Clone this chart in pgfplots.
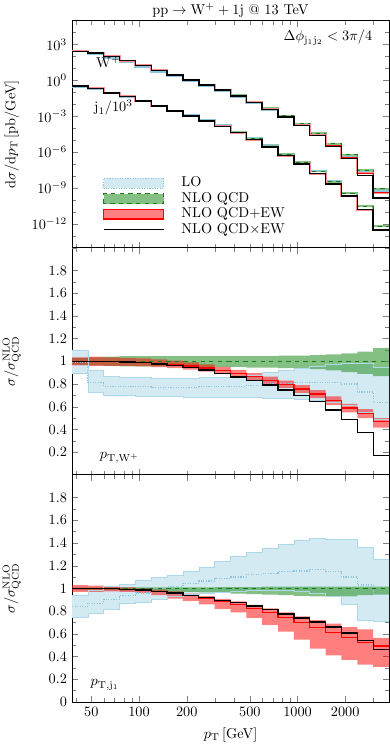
\documentclass[border=0pt]{standalone}
\usepackage{pgfplots}
\pgfplotsset{compat=1.18}
\usepackage{pgfplotstable}
\usepgfplotslibrary{fillbetween}

\definecolor{lofill}{RGB}{212,234,242}
\definecolor{loline}{RGB}{140,198,222}
\definecolor{qfill}{RGB}{50,150,50}
\definecolor{qline}{RGB}{25,125,25}

\pgfplotstableread{
x       wlo       wq        wr        wb        jlo       jq        jr        jb
37.77   260.4     263.0     263.0     263.0     0.2846    0.3388    0.3388    0.3388
47.55   161.6     199.5     199.5     199.5     0.1904    0.2188    0.2188    0.2188
59.86   78.16     100.2     100.0     100.0     0.08093   0.08933   0.08915   0.08915
75.36   34.28     43.95     43.73     43.69     0.04228   0.04498   0.04467   0.04467
94.87   13.97     18.03     17.85     17.80     0.01859   0.01936   0.01909   0.01907
119.43  5.327     6.918     6.793     6.759     7.430e-3  7.430e-3  7.244e-3  7.244e-3
150.36  2.201     2.858     2.778     2.752     2.914e-3  2.871e-3  2.753e-3  2.756e-3
189.29  0.874     1.135     1.087     1.073     1.163e-3  1.114e-3  1.044e-3  1.047e-3
238.30  0.3502    0.4519    0.4248    0.4167    4.617e-4  4.335e-4  3.958e-4  3.980e-4
300.00  0.1318    0.1690    0.1551    0.1513    1.717e-4  1.578e-4  1.398e-4  1.412e-4
377.68  0.04336   0.05559   0.04959   0.04792   5.253e-5  4.775e-5  4.107e-5  4.169e-5
475.47  0.01317   0.01667   0.01440   0.01380   1.425e-5  1.268e-5  1.047e-5  1.071e-5
598.58  3.590e-3  4.487e-3  3.733e-3  3.545e-3  3.565e-6  3.155e-6  2.492e-6  2.571e-6
753.57  8.910e-4  1.114e-3  8.890e-4  8.320e-4  7.595e-7  6.622e-7  4.914e-7  5.132e-7
948.68  1.921e-4  2.371e-4  1.795e-4  1.660e-4  1.596e-7  1.384e-7  9.688e-8  1.024e-7
1194.3  3.028e-5  3.715e-5  2.641e-5  2.396e-5  2.755e-8  2.355e-8  1.543e-8  1.660e-8
1503.6  4.088e-6  5.047e-6  3.296e-6  2.882e-6  3.712e-9  3.236e-9  1.974e-9  2.136e-9
1892.9  4.635e-7  5.794e-7  3.413e-7  2.816e-7  3.868e-10 3.516e-10 2.001e-10 2.138e-10
2383.0  2.215e-8  3.034e-8  1.638e-8  1.123e-8  2.957e-11 2.871e-11 1.510e-11 1.550e-11
3000.0  5.324e-10 8.318e-10 3.893e-10 1.414e-10 6.003e-13 6.339e-13 3.125e-13 2.948e-13
3776.8  5.324e-10 8.318e-10 3.893e-10 1.414e-10 6.003e-13 6.339e-13 3.125e-13 2.948e-13
}\toptab

\pgfplotstableread{
x      lolo  lo    lohi  q  qlo   qhi   rlo   r     rhi   b
37.77  0.89  0.99  1.10  1  0.97  1.03  0.965 1.0   1.035 1.0
47.55  0.73  0.81  0.92  1  0.965 1.035 0.96  1.0   1.04  1.0
59.86  0.70  0.78  0.87  1  0.96  1.04  0.96  0.998 1.035 0.998
75.36  0.70  0.78  0.86  1  0.955 1.045 0.96  0.995 1.03  0.994
94.87  0.695 0.775 0.855 1  0.955 1.045 0.955 0.99  1.025 0.987
119.43 0.69  0.77  0.85  1  0.955 1.045 0.948 0.982 1.016 0.977
150.36 0.69  0.77  0.85  1  0.955 1.045 0.94  0.972 1.005 0.963
189.29 0.685 0.77  0.85  1  0.95  1.045 0.926 0.958 0.99  0.945
238.30 0.685 0.775 0.855 1  0.95  1.045 0.908 0.94  0.972 0.922
300.00 0.68  0.78  0.86  1  0.95  1.045 0.886 0.918 0.95  0.895
377.68 0.68  0.78  0.87  1  0.95  1.045 0.86  0.892 0.924 0.862
475.47 0.68  0.79  0.88  1  0.945 1.045 0.832 0.864 0.896 0.828
598.58 0.675 0.80  0.90  1  0.945 1.045 0.80  0.832 0.864 0.79
753.57 0.67  0.80  0.92  1  0.94  1.05  0.765 0.798 0.83  0.747
948.68 0.665 0.81  0.94  1  0.935 1.05  0.722 0.757 0.79  0.70
1194.3 0.66  0.815 0.96  1  0.93  1.055 0.675 0.711 0.745 0.645
1503.6 0.64  0.81  0.97  1  0.92  1.06  0.615 0.653 0.69  0.571
1892.9 0.61  0.80  0.98  1  0.905 1.07  0.55  0.589 0.625 0.486
2383.0 0.55  0.73  0.98  1  0.89  1.085 0.50  0.54  0.578 0.37
3000.0 0.49  0.64  0.95  1  0.87  1.115 0.415 0.468 0.50  0.17
3776.8 0.49  0.64  0.95  1  0.87  1.115 0.415 0.468 0.50  0.17
}\midtab

\pgfplotstableread{
x      lolo  lo    lohi  q  qlo   qhi   rlo   r     rhi   b
37.77  0.75  0.84  0.94  1  0.985 1.01  0.97  1.0   1.03  1.0
47.55  0.78  0.87  0.985 1  0.985 1.01  0.97  1.0   1.025 1.0
59.86  0.82  0.906 1.015 1  0.985 1.01  0.975 0.998 1.02  0.998
75.36  0.87  0.94  1.04  1  0.98  1.01  0.97  0.993 1.01  0.993
94.87  0.88  0.96  1.07  1  0.98  1.01  0.96  0.986 1.0   0.985
119.43 0.906 1.0   1.10  1  0.975 1.01  0.94  0.975 0.99  0.975
150.36 0.93  1.015 1.12  1  0.97  1.01  0.91  0.959 0.975 0.96
189.29 0.95  1.044 1.155 1  0.97  1.01  0.89  0.937 0.955 0.94
238.30 0.96  1.065 1.19  1  0.965 1.01  0.86  0.913 0.932 0.918
300.00 0.97  1.088 1.235 1  0.96  1.012 0.82  0.886 0.908 0.895
377.68 0.975 1.10  1.28  1  0.955 1.012 0.79  0.86  0.885 0.873
475.47 0.98  1.124 1.32  1  0.95  1.012 0.74  0.826 0.855 0.845
598.58 0.98  1.13  1.35  1  0.945 1.015 0.68  0.79  0.825 0.815
753.57 0.98  1.147 1.39  1  0.94  1.015 0.62  0.742 0.79  0.775
948.68 0.975 1.153 1.42  1  0.935 1.015 0.55  0.70  0.755 0.74
1194.3 0.96  1.17  1.44  1  0.93  1.015 0.47  0.655 0.72  0.705
1503.6 0.93  1.147 1.435 1  0.93  1.015 0.41  0.61  0.69  0.66
1892.9 0.86  1.10  1.43  1  0.93  1.015 0.37  0.569 0.66  0.608
2383.0 0.72  1.03  1.36  1  0.94  1.015 0.33  0.526 0.64  0.54
3000.0 0.71  0.947 1.26  1  0.945 1.015 0.31  0.493 0.565 0.465
3776.8 0.71  0.947 1.26  1  0.945 1.015 0.31  0.493 0.565 0.465
}\bottab

\pgfplotsset{
  boxlegend/.style={/pgfplots/legend image code/.code={\draw[##1] (0pt,-3.4pt) rectangle (42pt,3.4pt); \path (54pt,0pt);}},
  linelegend/.style={/pgfplots/legend image code/.code={\draw[##1] (0pt,0pt) -- (42pt,0pt); \path (54pt,0pt);}},
}

\newcommand{\ratiobands}[2]{%
  \addplot[name path=#2a, loline!70, line width=0.4pt, const plot, forget plot] table[x=x,y=lolo]{#1};
  \addplot[name path=#2b, loline!70, line width=0.4pt, const plot, forget plot] table[x=x,y=lohi]{#1};
  \addplot[name path=#2c, draw=none, const plot, forget plot] table[x=x,y=qlo]{#1};
  \addplot[name path=#2d, draw=none, const plot, forget plot] table[x=x,y=qhi]{#1};
  \addplot[name path=#2e, draw=none, const plot, forget plot] table[x=x,y=rlo]{#1};
  \addplot[name path=#2f, draw=none, const plot, forget plot] table[x=x,y=rhi]{#1};
  \addplot[fill=lofill, draw=none, forget plot] fill between[of=#2a and #2b];
  \addplot[fill=qfill, fill opacity=0.6, draw=none, forget plot] fill between[of=#2c and #2d];
  \addplot[fill=red, fill opacity=0.5, draw=none, forget plot] fill between[of=#2e and #2f];
  \addplot[const plot, loline, densely dotted, line width=0.8pt, forget plot] table[x=x,y=lo]{#1};
  \addplot[const plot, qline, dashed, line width=0.6pt, forget plot] table[x=x,y=q]{#1};
  \addplot[const plot, red, line width=0.9pt, forget plot] table[x=x,y=r]{#1};
  \addplot[const plot, black, line width=0.9pt, forget plot] table[x=x,y=b]{#1};
}

\begin{document}
\begin{tikzpicture}

% bottom panel: pT,j1
\begin{axis}[scale only axis, width=221.9pt, height=159pt,
  xmode=log, xmin=37.77, xmax=3776.8,
  tick align=inside, tick pos=both,
  axis line style={line width=0.6pt},
  ymin=0, ymax=2, minor y tick num=1,
  ylabel={$\sigma/\sigma^{\mathrm{NLO}}_{\mathrm{QCD}}$},
  ylabel style={at={(axis description cs:-0.19,0.5)}, anchor=center},
  at={(0,0)}, anchor=south west,
  ytick={0,0.2,0.4,0.6,0.8,1,1.2,1.4,1.6,1.8},
  xtick={50,100,200,500,1000,2000},
  xticklabels={50,100,200,500,1000,2000},
  minor xtick={40,60,70,80,90,300,400,600,700,800,900,3000},
  xlabel={$p_{\mathrm{T}}$\,[GeV]},
  xlabel style={at={(axis description cs:0.5,0)}, anchor=center, yshift=-23pt},
]
\ratiobands{\bottab}{bt}
\node at (axis description cs:0.104,0.075) {$p_{\mathrm{T,j_1}}$};
\end{axis}

% middle panel: pT,W+
\begin{axis}[scale only axis, width=221.9pt, height=159pt,
  xmode=log, xmin=37.77, xmax=3776.8,
  tick align=inside, tick pos=both,
  axis line style={line width=0.6pt},
  ymin=0, ymax=2, minor y tick num=1,
  ylabel={$\sigma/\sigma^{\mathrm{NLO}}_{\mathrm{QCD}}$},
  ylabel style={at={(axis description cs:-0.19,0.5)}, anchor=center},
  at={(0,159pt)}, anchor=south west,
  ytick={0.2,0.4,0.6,0.8,1,1.2,1.4,1.6,1.8},
  xtick={100,1000}, xticklabels={},
  minor xtick={40,50,60,70,80,90,200,300,400,500,600,700,800,900,2000,3000},
]
\ratiobands{\midtab}{md}
\node at (axis description cs:0.15,0.075) {$p_{\mathrm{T,W^+}}$};
\end{axis}

% top panel: spectra
\begin{axis}[scale only axis, width=221.9pt, height=159pt,
  xmode=log, xmin=37.77, xmax=3776.8,
  tick align=inside, tick pos=both,
  axis line style={line width=0.6pt},
  at={(0,318pt)}, anchor=south west,
  ymode=log, ymin=1e-14, ymax=1e5,
  ytick={1e-12,1e-9,1e-6,1e-3,1,1e3},
  minor ytick={1e-14,1e-13,1e-11,1e-10,1e-8,1e-7,1e-5,1e-4,1e-2,1e-1,1e1,1e2,1e4,1e5},
  xtick={100,1000}, xticklabels={},
  minor xtick={40,50,60,70,80,90,200,300,400,500,600,700,800,900,2000,3000},
  ylabel={$\mathrm{d}\sigma/\mathrm{d}p_{\mathrm{T}}$\,[pb/GeV]},
  ylabel style={at={(axis description cs:-0.19,0.5)}, anchor=center},
  title={$\mathrm{pp}\to\mathrm{W}^{+}+1\mathrm{j}$ @ 13 TeV},
  title style={at={(axis description cs:0.5,1)}, anchor=base, inner sep=0pt, yshift=-1.6pt},
  legend style={at={(axis description cs:0.097,0.312)}, anchor=north west, draw=none, fill=none,
    inner sep=0pt, row sep=2.2pt, nodes={inner sep=0pt, text height=6.8pt, text depth=1.8pt}},
  legend cell align=left,
]
\addlegendimage{boxlegend, fill=lofill, draw=loline, densely dotted, line width=0.8pt}
\addlegendentry{LO}
\addlegendimage{boxlegend, fill=qfill!60, draw=qline, dashed, line width=0.8pt}
\addlegendentry{NLO QCD}
\addlegendimage{boxlegend, fill=red!50, draw=red, line width=0.8pt}
\addlegendentry{NLO QCD+EW}
\addlegendimage{linelegend, black, line width=0.9pt}
\addlegendentry{NLO QCD$\times$EW}

\addplot[const plot, loline, line width=1.4pt, forget plot] table[x=x,y=wlo]{\toptab};
\addplot[const plot, loline, line width=1.4pt, forget plot] table[x=x,y=jlo]{\toptab};
\addplot[const plot, qfill!60, line width=1.3pt, forget plot] table[x=x,y=wq]{\toptab};
\addplot[const plot, qfill!60, line width=1.3pt, forget plot] table[x=x,y=jq]{\toptab};
\addplot[const plot, qline, dashed, line width=0.6pt, forget plot] table[x=x,y=wq]{\toptab};
\addplot[const plot, qline, dashed, line width=0.6pt, forget plot] table[x=x,y=jq]{\toptab};
\addplot[const plot, red!45, line width=1.4pt, forget plot] table[x=x,y=wr]{\toptab};
\addplot[const plot, red!45, line width=1.4pt, forget plot] table[x=x,y=jr]{\toptab};
\addplot[const plot, red, line width=0.6pt, forget plot] table[x=x,y=wr]{\toptab};
\addplot[const plot, red, line width=0.6pt, forget plot] table[x=x,y=jr]{\toptab};
\addplot[const plot, black, line width=1.0pt, forget plot] table[x=x,y=wb]{\toptab};
\addplot[const plot, black, line width=1.0pt, forget plot] table[x=x,y=jb]{\toptab};

\node at (axis cs:64,35) {$\mathrm{W}^{+}$};
\node at (axis cs:69,5e-3) {$\mathrm{j}_1/10^3$};
\node[anchor=east] at (axis description cs:0.963,0.925) {$\Delta\phi_{\mathrm{j_1 j_2}}<3\pi/4$};
\end{axis}

\pgfresetboundingbox
\path (-50.4pt,-30.8pt) rectangle (222.6pt,491.4pt);
\end{tikzpicture}
\end{document}
